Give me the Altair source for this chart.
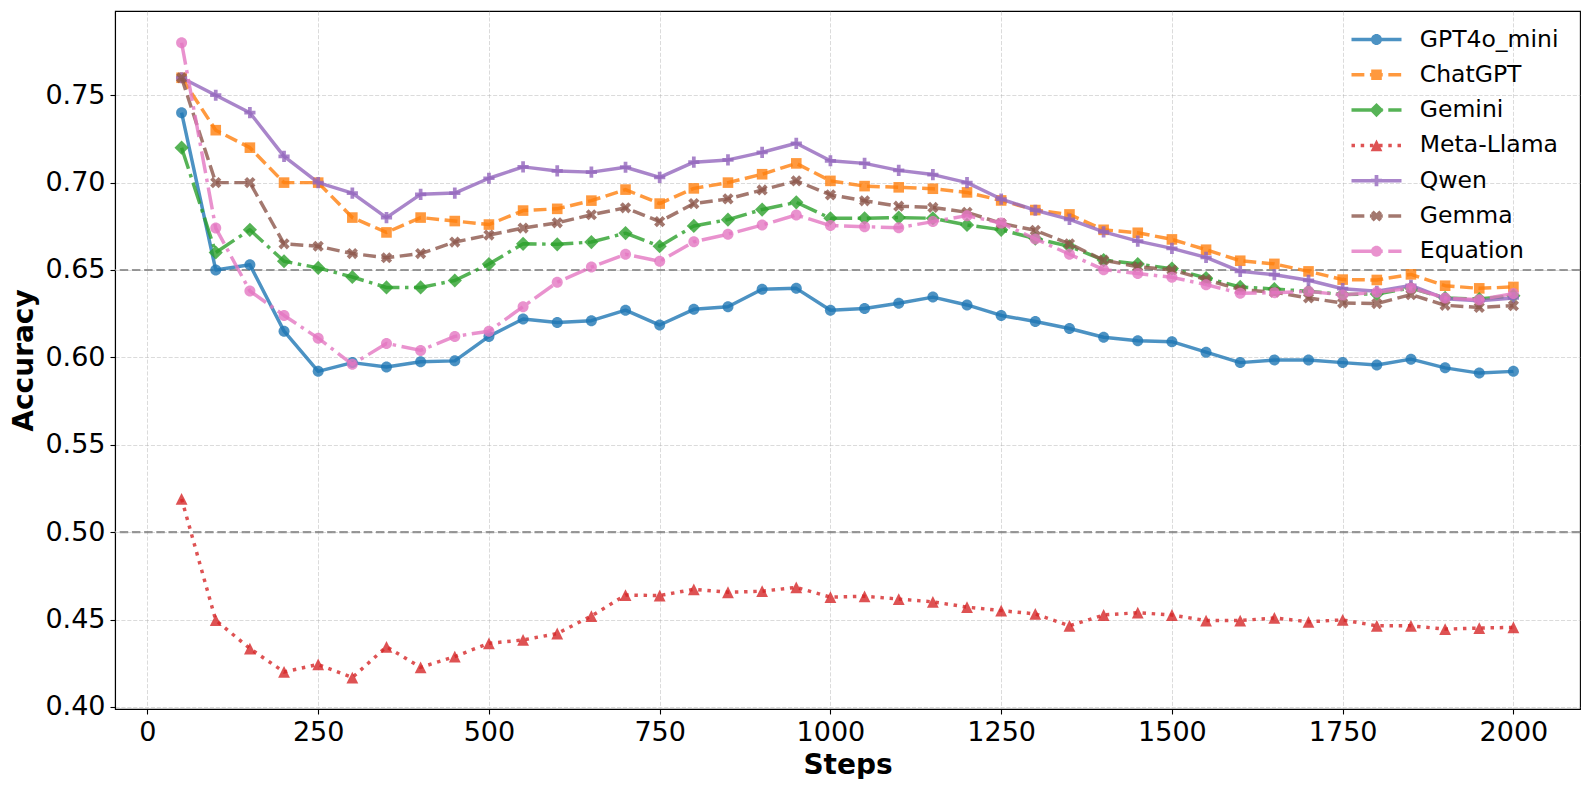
import altair as alt
import pandas as pd

# ---------------- data ----------------
steps = [50, 100, 150, 200, 250, 300, 350, 400, 450, 500,
         550, 600, 650, 700, 750, 800, 850, 900, 950, 1000,
         1050, 1100, 1150, 1200, 1250, 1300, 1350, 1400, 1450, 1500,
         1550, 1600, 1650, 1700, 1750, 1800, 1850, 1900, 1950, 2000]

gpt4o_mini = [0.740, 0.650, 0.653, 0.615, 0.592, 0.597, 0.5945, 0.5975, 0.598, 0.612,
              0.622, 0.620, 0.621, 0.627, 0.6185, 0.6275, 0.629, 0.639, 0.6395, 0.627,
              0.628, 0.631, 0.6345, 0.630, 0.624, 0.6205, 0.6165, 0.6115, 0.6095, 0.609,
              0.603, 0.597, 0.5985, 0.5985, 0.597, 0.5956, 0.599, 0.594, 0.591, 0.592]
chatgpt = [0.760, 0.730, 0.720, 0.700, 0.700, 0.680, 0.6715, 0.680, 0.678, 0.676,
           0.684, 0.685, 0.6897, 0.696, 0.688, 0.6967, 0.700, 0.7048, 0.711, 0.701,
           0.698, 0.6973, 0.6965, 0.6944, 0.6898, 0.6843, 0.6818, 0.673, 0.6713, 0.6675,
           0.6616, 0.6553, 0.6535, 0.6492, 0.6445, 0.6443, 0.6475, 0.641, 0.6395, 0.6403]
gemini = [0.720, 0.660, 0.673, 0.655, 0.6512, 0.646, 0.640, 0.640, 0.644, 0.6534,
          0.665, 0.6647, 0.666, 0.6711, 0.6636, 0.6752, 0.6788, 0.6846, 0.6887, 0.6796,
          0.6796, 0.680, 0.6796, 0.6758, 0.673, 0.668, 0.6635, 0.6557, 0.6534, 0.6508,
          0.6454, 0.6403, 0.6391, 0.6378, 0.636, 0.6363, 0.6397, 0.634, 0.6334, 0.6353]
meta_llama = [0.519, 0.4496, 0.4334, 0.420, 0.4243, 0.4168, 0.4344, 0.4226, 0.4288, 0.4364,
              0.4383, 0.442, 0.452, 0.464, 0.4637, 0.4673, 0.4656, 0.4662, 0.4684, 0.4628,
              0.4633, 0.4617, 0.4601, 0.4571, 0.4551, 0.4532, 0.4464, 0.4526, 0.4539, 0.4526,
              0.4494, 0.4494, 0.4509, 0.4487, 0.4498, 0.4464, 0.4464, 0.4445, 0.4451, 0.4455]
qwen = [0.760, 0.750, 0.740, 0.715, 0.700, 0.694, 0.680, 0.6933, 0.694, 0.7025,
        0.709, 0.7067, 0.706, 0.7088, 0.703, 0.7117, 0.713, 0.7173, 0.7225, 0.7125,
        0.711, 0.707, 0.7046, 0.700, 0.6906, 0.6842, 0.679, 0.6718, 0.6665, 0.6624,
        0.6572, 0.6492, 0.6473, 0.6441, 0.6393, 0.6378, 0.6412, 0.6336, 0.6324, 0.634]
gemma = [0.760, 0.700, 0.700, 0.665, 0.6636, 0.6594, 0.657, 0.6594, 0.666, 0.670,
         0.674, 0.677, 0.6816, 0.6856, 0.6777, 0.688, 0.6907, 0.6958, 0.701, 0.693,
         0.6896, 0.6865, 0.6858, 0.683, 0.6767, 0.6727, 0.665, 0.6556, 0.6519, 0.650,
         0.6445, 0.6388, 0.6373, 0.634, 0.6311, 0.6308, 0.6359, 0.6298, 0.6286, 0.6296]
equation = [0.780, 0.674, 0.638, 0.624, 0.611, 0.596, 0.608, 0.604, 0.612, 0.615,
            0.629, 0.643, 0.6517, 0.659, 0.655, 0.6661, 0.6705, 0.6757, 0.6815, 0.6754,
            0.6748, 0.6742, 0.6777, 0.6811, 0.6769, 0.6678, 0.659, 0.6502, 0.6480, 0.6458,
            0.6416, 0.6367, 0.637, 0.6378, 0.6357, 0.6372, 0.6397, 0.634, 0.633, 0.6365]

series_names = ["GPT4o_mini", "ChatGPT", "Gemini", "Meta-Llama", "Qwen", "Gemma", "Equation"]
series_values = [gpt4o_mini, chatgpt, gemini, meta_llama, qwen, gemma, equation]
colors = ["#1f77b4", "#ff7f0e", "#2ca02c", "#d62728", "#9467bd", "#8c564b", "#e377c2"]
line_styles = ["solid", "dashed", "dashdot", "dotted", "solid", "dashed", "dashdot"]
marker_kinds = ["circle", "square", "diamond", "triangle", "plus", "x", "circle"]

ref_lines = [0.65, 0.50]
x_ticks = [0, 250, 500, 750, 1000, 1250, 1500, 1750, 2000]
y_ticks = [0.40, 0.45, 0.50, 0.55, 0.60, 0.65, 0.70, 0.75]

rows = []
for name, vals in zip(series_names, series_values):
    for s, v in zip(steps, vals):
        rows.append({"step": s, "accuracy": v, "series": name})
df = pd.DataFrame(rows)
ref_df = pd.DataFrame({"accuracy": ref_lines})

# ---------------- styles ----------------
LW = 3.47
DASH = {"solid": None, "dashed": [12.85, 5.56], "dashdot": [22.2, 5.56, 3.47, 5.56], "dotted": [3.47, 5.73]}

A = 1.0 / 3.0
POLYS = {
    "square": [(-1, -1), (1, -1), (1, 1), (-1, 1)],
    "diamond": [(0, -1), (1, 0), (0, 1), (-1, 0)],
    "triangle": [(0, -1), (1, 1), (-1, 1)],
    "plus": [(-A, -1), (A, -1), (A, -A), (1, -A), (1, A), (A, A), (A, 1), (-A, 1),
             (-A, A), (-1, A), (-1, -A), (-A, -A)],
    "x": [(-0.5, -1), (0, -0.5), (0.5, -1), (1, -0.5), (0.5, 0), (1, 0.5), (0.5, 1),
          (0, 0.5), (-0.5, 1), (-1, 0.5), (-0.5, 0), (-1, -0.5)],
}
# visual half extent of each marker in px
HALF = {"circle": 5.5, "square": 5.3, "diamond": 7.1, "triangle": 5.9, "plus": 5.6, "x": 5.6}


def marker_path(kind, s=1.0):
    if kind == "circle":
        r = s
        return f"M{-r:.4f},0A{r:.4f},{r:.4f} 0 1 1 {r:.4f},0A{r:.4f},{r:.4f} 0 1 1 {-r:.4f},0Z"
    pts = POLYS[kind]
    return "M" + "L".join(f"{x * s:.4f},{y * s:.4f}" for x, y in pts) + "Z"


def dash_segments(pattern, length=50.0):
    if pattern is None:
        return [(0.0, length)]
    segs, pos, i = [], 0.0, 0
    while pos < length:
        d = pattern[i % len(pattern)]
        if i % 2 == 0:
            segs.append((pos, min(pos + d, length)))
        pos += d
        i += 1
    return segs


U = 12.5  # legend symbol unit in px (symbolSize 625)


def legend_path(style, kind):
    h = LW / 2 / U
    parts = []
    for a, b in dash_segments(DASH[style]):
        x0 = (a - 25.0) / U
        x1 = (b - 25.0) / U
        parts.append(f"M{x0:.4f},{-h:.4f}H{x1:.4f}V{h:.4f}H{x0:.4f}Z")
    parts.append(marker_path(kind, HALF[kind] / U))
    return "".join(parts)


legend_paths = [legend_path(st, mk) for st, mk in zip(line_styles, marker_kinds)]

# ---------------- encodings ----------------
x_enc = alt.X("step:Q", scale=alt.Scale(domain=[-47.5, 2097.5], nice=False, zero=False),
              axis=alt.Axis(values=x_ticks, title="Steps", format="d"))
y_enc = alt.Y("accuracy:Q", scale=alt.Scale(domain=[0.3988, 0.7982], nice=False, zero=False),
              axis=alt.Axis(values=y_ticks, title="Accuracy", format=".2f"))
color_scale = alt.Scale(domain=series_names, range=colors)
shape_scale = alt.Scale(domain=series_names, range=legend_paths)

legend = alt.Legend(title=None, orient="none", legendX=1249, legendY=16, padding=0,
                    labelFont="DejaVu Sans", labelFontSize=23.5, labelColor="black",
                    labelOffset=30.8, symbolSize=625, symbolStrokeWidth=0, symbolOpacity=0.8,
                    rowPadding=11.3, labelLimit=400)

color_enc = alt.Color("series:N", scale=color_scale, legend=legend)

layers = []
layers.append(
    alt.Chart(ref_df).mark_rule(color="gray", strokeWidth=2.1, strokeDash=[8.5, 3.7], opacity=0.8)
    .encode(y=y_enc)
)

base = alt.Chart(df)
for name, st, mk in zip(series_names, line_styles, marker_kinds):
    line_kw = dict(strokeWidth=LW, opacity=0.8, strokeJoin="round", strokeCap="butt")
    if DASH[st] is not None:
        line_kw["strokeDash"] = DASH[st]
    layers.append(
        base.transform_filter(alt.datum.series == name)
        .mark_line(**line_kw)
        .encode(x=x_enc, y=y_enc, color=color_enc)
    )
    layers.append(
        base.transform_filter(alt.datum.series == name)
        .mark_point(filled=True, opacity=0.8, strokeWidth=0, shape=marker_path(mk),
                    size=(2 * HALF[mk]) ** 2)
        .encode(x=x_enc, y=y_enc, color=color_enc)
    )

# legend carrier: no rows drawn, supplies combined line+marker legend symbols
layers.append(
    base.transform_filter("false")
    .mark_point(filled=True, opacity=0.8)
    .encode(
        x=x_enc, y=y_enc,
        color=color_enc,
        shape=alt.Shape("series:N", scale=shape_scale, legend=legend),
    )
)

chart = (
    alt.layer(*layers)
    .properties(width=1465, height=698,
                autosize=alt.AutoSizeParams(type="none"),
                padding={"left": 107, "top": 3, "right": 1, "bottom": 70},
                background="white")
    .configure_axis(
        labelFont="DejaVu Sans", labelFontSize=27, labelColor="black",
        titleFont="DejaVu Sans", titleFontSize=28, titleFontWeight="bold", titleColor="black",
        tickColor="black", tickSize=5, tickWidth=1.1, labelPadding=5,
        domainColor="black", domainWidth=1.1,
        grid=True, gridColor="#b0b0b0", gridOpacity=0.5, gridDash=[4.1, 1.8], gridWidth=0.9,
    )
    .configure_axisX(titlePadding=6)
    .configure_axisY(titlePadding=6)
    .configure_view(stroke="black", strokeWidth=1.1)
)

chart.save("out.html", embed_options={"renderer": "svg", "actions": False})
